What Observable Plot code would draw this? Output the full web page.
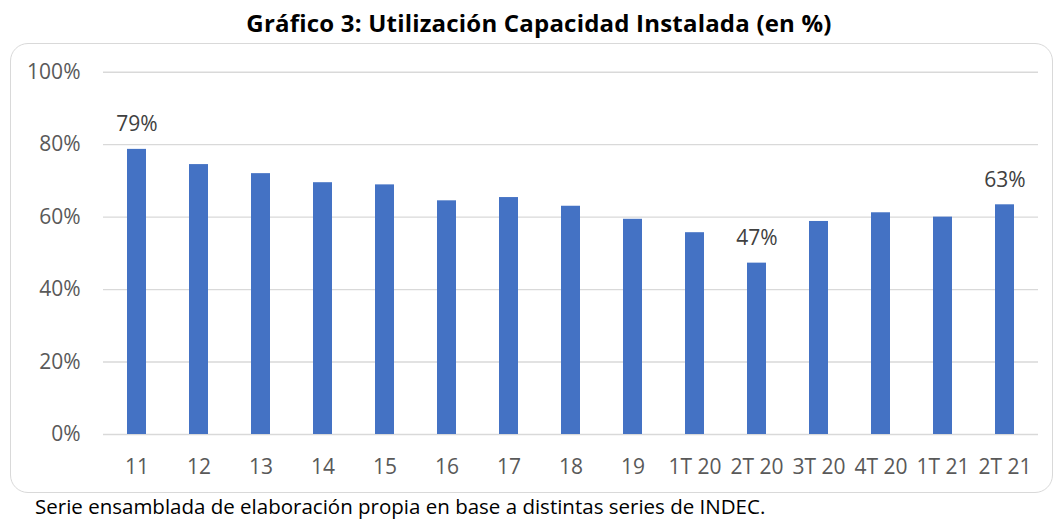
<!DOCTYPE html>
<html>
<head>
<meta charset="utf-8">
<script src="https://cdn.jsdelivr.net/npm/d3@7"></script>
<script src="https://cdn.jsdelivr.net/npm/@observablehq/plot@0.6"></script>
<style>
  html, body { margin: 0; padding: 0; background: #fff; }
  #wrap { position: relative; width: 1058px; height: 522px; overflow: hidden; font-family: "Open Sans", sans-serif; }
  #title { position: absolute; left: 0; width: 1078px; top: 11px; text-align: center; font-weight: bold; font-size: 24px; line-height: 24px; letter-spacing: 0.2px; color: #000; }
  #frame { position: absolute; left: 10px; top: 43px; width: 1041px; height: 448px; border: 1.3px solid #d9d9d9; border-radius: 18px; }
  #chart { position: absolute; left: 0; top: 43px; }
  #caption { position: absolute; left: 35px; top: 496px; font-size: 20.5px; line-height: 20.5px; color: #000; white-space: nowrap; }
</style>
</head>
<body>
<div id="wrap">
  <div id="title">Gráfico 3: Utilización Capacidad Instalada (en %)</div>
  <div id="frame"></div>
  <div id="chart"></div>
  <div id="caption">Serie ensamblada de elaboración propia en base a distintas series de INDEC.</div>
</div>
<script>
const categories = ["11", "12", "13", "14", "15", "16", "17", "18", "19", "1T 20", "2T 20", "3T 20", "4T 20", "1T 21", "2T 21"];
const values = [78.7, 74.5, 72.0, 69.5, 68.9, 64.5, 65.4, 63.0, 59.4, 55.7, 47.3, 58.8, 61.2, 60.0, 63.4];
const labeledCategories = ["11", "2T 20", "2T 21"];
const yTicks = [0, 20, 40, 60, 80, 100];

const data = categories.map((c, i) => ({category: c, value: values[i]}));
const labeled = data.filter(d => labeledCategories.includes(d.category));

const chart = Plot.plot({
  width: 1058,
  height: 450,
  marginLeft: 103,
  marginRight: 20,
  marginTop: 28.7,
  marginBottom: 59,
  style: {fontFamily: "Open Sans, sans-serif", fontSize: "21px", background: "transparent", overflow: "visible"},
  x: {domain: categories, paddingInner: 0.69, paddingOuter: 0.345, label: null},
  y: {domain: [0, 100], label: null},
  marks: [
    Plot.ruleY(yTicks, {stroke: "#d9d9d9", strokeWidth: 1.4}),
    Plot.barY(data, {x: "category", y: "value", fill: "#4472c4"}),
    Plot.text(labeled, {x: "category", y: "value", text: d => Math.round(d.value) + "%", dy: -25, fill: "#404040", fontSize: 21}),
    Plot.axisY({ticks: yTicks, tickFormat: d => d + "%", tickSize: 0, tickPadding: 23, color: "#595959", label: null}),
    Plot.axisX({tickSize: 0, tickPadding: 25, color: "#595959", label: null})
  ]
});
document.getElementById("chart").appendChild(chart);
</script>
</body>
</html>
